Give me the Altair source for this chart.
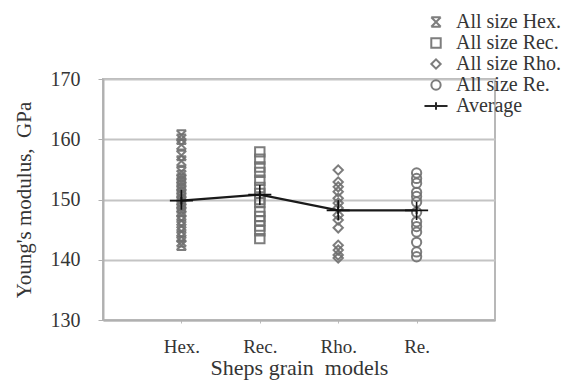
import altair as alt
import pandas as pd

categories = ["Hex.", "Rec.", "Rho.", "Re."]
series_names = ["All size Hex.", "All size Rec.", "All size Rho.", "All size Re.", "Average"]

hex_vals = [160.7, 160.0, 159.1, 157.3, 156.4, 154.6, 154.0, 153.4, 152.8, 152.2,
            151.6, 151.0, 150.4, 149.8, 149.2, 148.6, 148.0, 147.4, 146.5, 145.6,
            144.7, 143.8, 143.0, 142.4]
rec_vals = [157.9, 156.7, 155.4, 154.5, 153.2, 152.0, 151.0, 150.0, 149.5, 148.0,
            147.2, 146.5, 145.6, 144.8, 143.5]
rho_vals = [154.9, 152.9, 152.1, 151.3, 150.2, 149.4, 148.6, 147.4, 146.6, 145.3,
            142.4, 141.6, 140.8, 140.3]
re_vals = [154.4, 153.5, 152.7, 151.2, 150.5, 149.6, 147.9, 146.3, 145.5, 144.6,
           142.9, 141.3, 140.5]

avg_vals = [149.8, 150.8, 148.2, 148.2]
avg_low = [148.3, 149.1, 146.6, 146.6]
avg_high = [151.6, 152.4, 149.9, 149.6]

rows = []
for cat, name, vals in zip(categories, series_names[:4], [hex_vals, rec_vals, rho_vals, re_vals]):
    for v in vals:
        rows.append({"model": cat, "series": name, "E": v})
pts = pd.DataFrame(rows)
avg = pd.DataFrame({"model": categories, "series": "Average", "E": avg_vals,
                    "lo": avg_low, "hi": avg_high})

FONT = "Liberation Serif"
TXT = "#353535"
GRAY = "#707070"

shape_scale = alt.Scale(
    domain=series_names,
    range=[
        "M-1,-1L1,1M1,-1L-1,1M-1,-1L1,-1M-1,1L1,1",
        "square",
        "diamond",
        "circle",
        "M-2.5,0L2.5,0M0,-0.8L0,0.8",
    ],
)
color_scale = alt.Scale(domain=series_names, range=[GRAY, GRAY, GRAY, GRAY, "#111111"])
size_scale = alt.Scale(domain=series_names, range=[90, 85, 60, 100, 60])

legend = alt.Legend(
    title=None, orient="none", legendX=323, legendY=-67,
    labelFont=FONT, labelFontSize=20, labelColor=TXT, symbolSize=85,
    symbolStrokeWidth=2, rowPadding=1, labelOffset=10, labelLimit=300,
)

x_enc = alt.X(
    "model:N", sort=categories,
    scale=alt.Scale(type="point", padding=1),
    axis=alt.Axis(title="Sheps grain\u00a0\u00a0models", labelAngle=0, labelFont=FONT,
                  labelFontSize=19, labelColor=TXT, titleFont=FONT, titleFontSize=22,
                  titleFontWeight="normal", titleColor=TXT, labelPadding=14,
                  titlePadding=1, tickSize=3, tickColor="#bbbbbb", domainColor="#b0b0b0",
                  domainWidth=2, grid=False),
)
y_scale = alt.Scale(domain=[130, 170], nice=False, zero=False)
y_axis = alt.Axis(title="Young's modulus,\u00a0\u00a0GPa", values=[130, 140, 150, 160, 170],
                  labelFont=FONT, labelFontSize=20, labelColor=TXT, titleFont=FONT,
                  titleFontSize=21, titleFontWeight="normal", titleColor=TXT,
                  labelPadding=18, titlePadding=16, tickSize=5, tickColor="#b0b0b0",
                  domainColor="#b0b0b0", domainWidth=2, gridColor="#c4c4c4", gridWidth=2)

points = alt.Chart(pts).mark_point(filled=False, strokeWidth=2, opacity=0.9).encode(
    x=x_enc,
    y=alt.Y("E:Q", scale=y_scale, axis=y_axis),
    shape=alt.Shape("series:N", scale=shape_scale, legend=legend),
    color=alt.Color("series:N", scale=color_scale, legend=legend),
    size=alt.Size("series:N", scale=size_scale, legend=None),
)

line = alt.Chart(avg).mark_line(color="#1a1a1a", strokeWidth=2.2).encode(
    x=alt.X("model:N", sort=categories), y=alt.Y("E:Q"))
err = alt.Chart(avg).mark_rule(color="#111111", strokeWidth=1.6).encode(
    x=alt.X("model:N", sort=categories), y=alt.Y("lo:Q"), y2="hi:Q")
avg_pts = alt.Chart(avg).mark_point(filled=False, strokeWidth=1.8, opacity=1).encode(
    x=alt.X("model:N", sort=categories),
    y=alt.Y("E:Q"),
    shape=alt.Shape("series:N", scale=shape_scale, legend=legend),
    color=alt.Color("series:N", scale=color_scale, legend=legend),
    size=alt.Size("series:N", scale=size_scale, legend=None),
)

chart = alt.layer(points, line, err, avg_pts).properties(
    width=392, height=241,
    autosize=alt.AutoSizeParams(type="none"),
    padding={"left": 103, "top": 79, "right": 74, "bottom": 62},
    background="white",
).configure_view(stroke="#b8b8b8", strokeWidth=2)

chart.save("out.html", embed_options={"renderer": "svg", "actions": False})
